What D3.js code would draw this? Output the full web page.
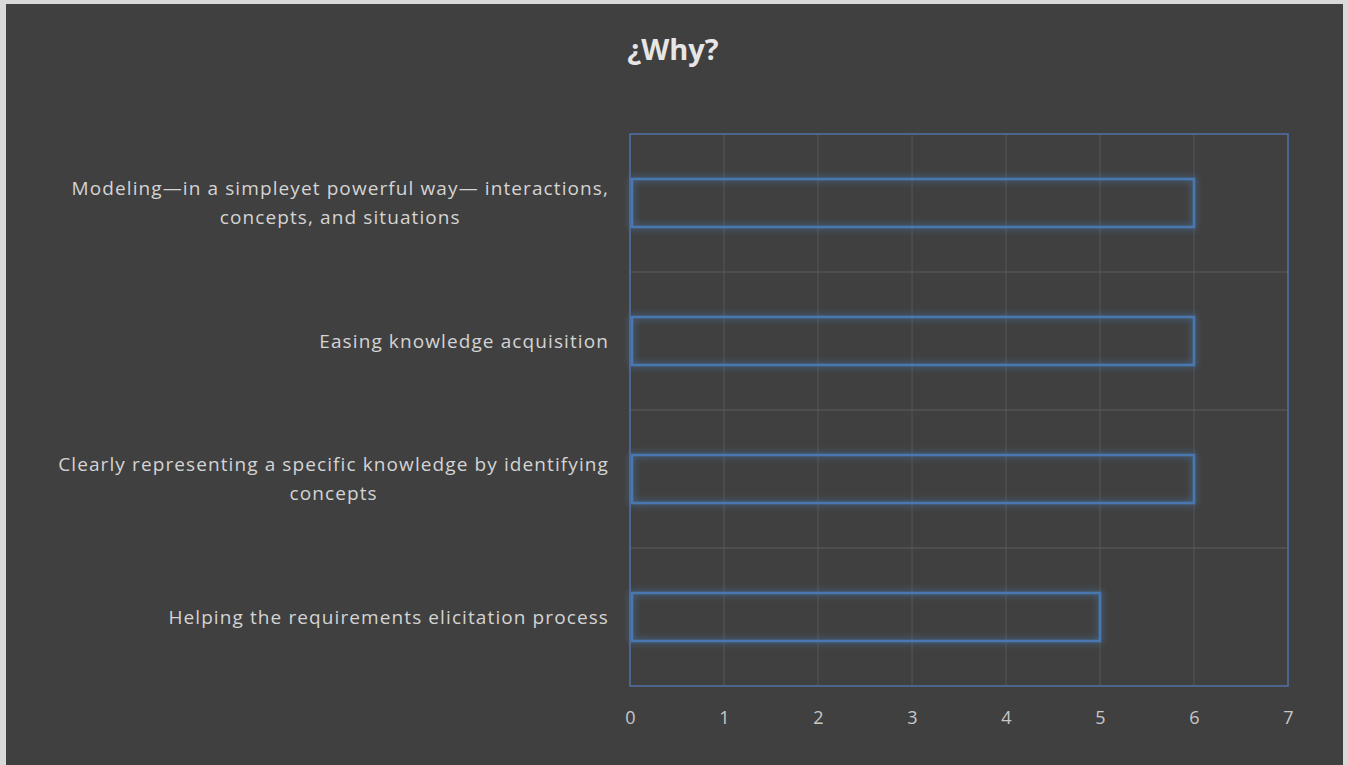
<!DOCTYPE html>
<html>
<head>
<meta charset="utf-8">
<script src="https://cdn.jsdelivr.net/npm/d3@7"></script>
<style>
  html, body { margin: 0; padding: 0; background: #d9d9d9; }
  svg { display: block; }
</style>
</head>
<body>
<svg id="chart" width="1348" height="765"></svg>
<script>
// Reasons, each split into its display lines
const categories = [
  ["Modeling\u2014in a simpleyet powerful way\u2014 interactions,", "concepts, and situations"],
  ["Easing knowledge acquisition"],
  ["Clearly representing a specific knowledge by identifying", "concepts"],
  ["Helping the requirements elicitation process"]
];
const values = [6, 6, 6, 5];
const tickValues = [0, 1, 2, 3, 4, 5, 6, 7];
const title = "\u00bfWhy?";

const svg = d3.select("#chart");
const W = 1348, H = 765;

// dark chart panel inside the light frame
svg.append("rect")
  .attr("x", 6).attr("y", 4)
  .attr("width", 1337).attr("height", H - 4)
  .attr("fill", "#404040");

const plot = { left: 630, right: 1288, top: 134, bottom: 686 };

const x = d3.scaleLinear().domain([0, 7]).range([plot.left, plot.right]);
const y = d3.scaleBand()
  .domain(d3.range(categories.length))
  .range([plot.top, plot.bottom])
  .paddingInner(0).paddingOuter(0);

// soft blue glow for the bar outlines
const defs = svg.append("defs");
const glow = defs.append("filter").attr("id", "glow")
  .attr("x", "-10%").attr("y", "-50%").attr("width", "120%").attr("height", "200%");
glow.append("feGaussianBlur").attr("in", "SourceGraphic").attr("stdDeviation", 3.5).attr("result", "blur");
const merge = glow.append("feMerge");
merge.append("feMergeNode").attr("in", "blur");
merge.append("feMergeNode").attr("in", "SourceGraphic");

// title
svg.append("text")
  .attr("x", 673).attr("y", 60)
  .attr("text-anchor", "middle")
  .attr("font-family", "'Open Sans', sans-serif")
  .attr("font-weight", 700)
  .attr("font-size", 29)
  .attr("fill", "#e6e6e6")
  .text(title);

// vertical gridlines
svg.append("g")
  .selectAll("line")
  .data(tickValues.filter(v => v > 0 && v < 7))
  .join("line")
  .attr("x1", d => x(d)).attr("x2", d => x(d))
  .attr("y1", plot.top).attr("y2", plot.bottom)
  .attr("stroke", "#525252").attr("stroke-width", 1.2);

// horizontal gridlines between categories
svg.append("g")
  .selectAll("line")
  .data(d3.range(1, categories.length))
  .join("line")
  .attr("x1", plot.left).attr("x2", plot.right)
  .attr("y1", d => y(d)).attr("y2", d => y(d))
  .attr("stroke", "#5c5c5c").attr("stroke-width", 1.2);

// plot area border
svg.append("rect")
  .attr("x", plot.left).attr("y", plot.top)
  .attr("width", plot.right - plot.left).attr("height", plot.bottom - plot.top)
  .attr("fill", "none")
  .attr("stroke", "#4f6fa0").attr("stroke-width", 1.6);

// bars: outline only
const barH = 48;
svg.append("g")
  .selectAll("rect")
  .data(values)
  .join("rect")
  .attr("x", x(0) + 2)
  .attr("y", (d, i) => y(i) + y.bandwidth() / 2 - barH / 2)
  .attr("width", d => x(d) - x(0) - 2)
  .attr("height", barH)
  .attr("fill", "none")
  .attr("stroke", "#4a78b0")
  .attr("stroke-width", 2.6)
  .attr("filter", "url(#glow)");

// x axis tick labels
const xAxis = d3.axisBottom(x).tickValues(tickValues).tickSize(0).tickPadding(0).tickFormat(d3.format("d"));
const gx = svg.append("g")
  .attr("transform", `translate(0, ${plot.bottom + 25})`)
  .call(xAxis);
gx.select(".domain").remove();
gx.selectAll("text")
  .attr("dy", "0.71em")
  .attr("font-family", "'Open Sans', sans-serif")
  .attr("font-size", 18)
  .attr("fill", "#c8c8c8");

// category labels, block right-aligned, lines centered
const labelRight = 609;
const lineH = 29;
const labels = svg.append("g")
  .attr("font-family", "'Open Sans', sans-serif")
  .attr("font-size", 19)
  .attr("letter-spacing", "1.1px")
  .attr("fill", "#d4d4d4");

categories.forEach((lines, i) => {
  const cy = y(i) + y.bandwidth() / 2;
  const t = labels.append("text").attr("text-anchor", "middle");
  const spans = lines.map((ln, k) => t.append("tspan")
    .attr("y", cy + (k - (lines.length - 1) / 2) * lineH)
    .attr("dy", "0.35em")
    .text(ln));
  const maxW = d3.max(spans, s => s.node().getComputedTextLength());
  spans.forEach(s => s.attr("x", labelRight - maxW / 2));
});
</script>
</body>
</html>
